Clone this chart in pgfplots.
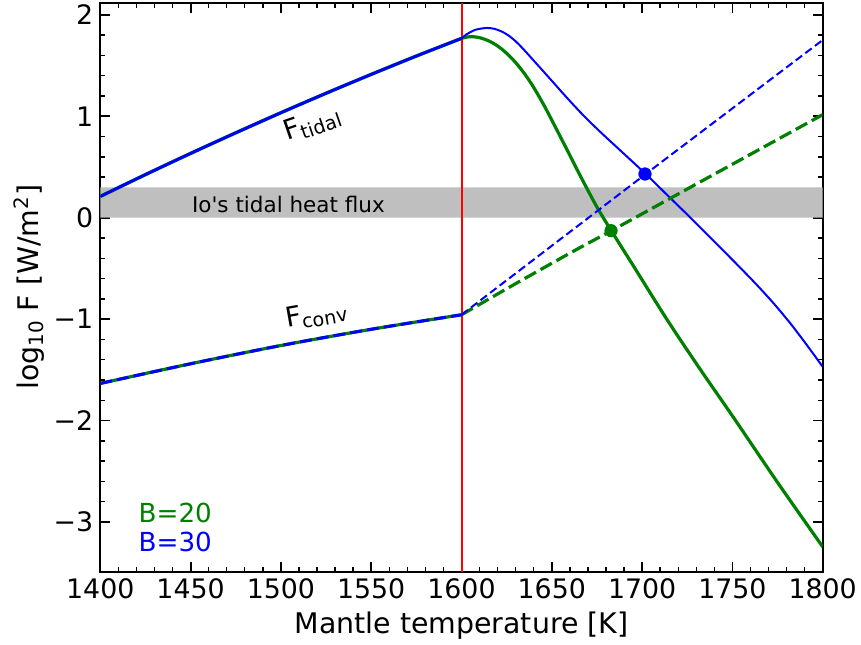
\documentclass[border=0pt]{standalone}
\usepackage{pgfplots}
\pgfplotsset{compat=1.18}
\usepackage{fontspec}
\setmainfont{DejaVu Sans}
\definecolor{mplgreen}{RGB}{0,128,0}
\definecolor{band}{RGB}{191,191,191}
\begin{document}
\begin{tikzpicture}
\begin{axis}[
  name=ax,
  scale only axis,
  width=361.2pt, height=284.5pt,
  xmin=1400, xmax=1800, ymin=-3.49, ymax=2.12,
  xtick={1400,1450,1500,1550,1600,1650,1700,1750,1800},
  xticklabels={1400,1450,1500,1550,1600,1650,1700,1750,1800},
  ytick={-3,-2,-1,0,1,2},
  yticklabels={−3,−2,−1,0,1,2},
  minor x tick num=4,
  minor y tick num=4,
  tick align=inside,
  xtick pos=both, ytick pos=both,
  major tick length=5pt, minor tick length=2.5pt,
  major tick style={line width=0.9pt, black},
  minor tick style={line width=0.7pt, black},
  axis line style={line width=1.1pt},
  ticklabel style={font=\fontsize{13.4}{16}\selectfont},
  xlabel={Mantle temperature [K]},
  ylabel={log\textsubscript{10} F [W/m\textsuperscript{2}]},
  label style={font=\fontsize{14.2}{17}\selectfont},
  xlabel style={at={(axis description cs:0.5,-0.1083)}, anchor=base},
  ylabel style={at={(axis description cs:-0.0983,0.5)}, anchor=center},
]
% Io's tidal heat flux band
\addplot[fill=band, draw=none] coordinates {(1400,0) (1800,0) (1800,0.3) (1400,0.3)} \closedcycle;
% red vertical line
\addplot[red, line width=1pt] coordinates {(1600,-3.49) (1600,2.12)};

% tidal below 1600 (both B)
\addplot[mplgreen, line width=1.7pt, smooth] coordinates {
(1400,0.21) (1425,0.425) (1450,0.634) (1475,0.837) (1500,1.035) (1525,1.227) (1550,1.413) (1575,1.594) (1600,1.768)};
% green tidal above 1600
\addplot[mplgreen, line width=1.6pt, smooth] coordinates {
(1600,1.768) (1603,1.781) (1606,1.785) (1610,1.775) (1615,1.744) (1620,1.693) (1625,1.621) (1630,1.529) (1635,1.417) (1640,1.284) (1646,1.098) (1652,0.893) (1658,0.685) (1666,0.405) (1675,0.105) (1683,-0.13) (1695,-0.47) (1714,-1.01) (1732,-1.49) (1751,-1.98) (1775,-2.61) (1800,-3.245)};
\addplot[blue, line width=1.4pt, smooth] coordinates {
(1400,0.21) (1425,0.425) (1450,0.634) (1475,0.837) (1500,1.035) (1525,1.227) (1550,1.413) (1575,1.594) (1600,1.768)};
% blue tidal above 1600
\addplot[blue, line width=1pt, smooth] coordinates {
(1600,1.768) (1603,1.81) (1607,1.848) (1610,1.862) (1614,1.871) (1618,1.863) (1622,1.838) (1626,1.797) (1630,1.739) (1634,1.667) (1641,1.529) (1649,1.37) (1658,1.19) (1667,1.018) (1676,0.86) (1686,0.695) (1702,0.431) (1714,0.222) (1726.5,0.005) (1745,-0.325) (1754,-0.487) (1763.5,-0.662) (1773,-0.848) (1782,-1.04) (1791,-1.25) (1800,-1.47)};

% conv below 1600
\addplot[mplgreen, line width=1.6pt, smooth] coordinates {
(1400,-1.634) (1450,-1.44) (1500,-1.26) (1550,-1.10) (1600,-0.957)};
\addplot[blue, line width=1.5pt, smooth, dash pattern=on 6pt off 2.5pt] coordinates {
(1400,-1.634) (1450,-1.44) (1500,-1.26) (1550,-1.10) (1600,-0.957)};
% conv above 1600
\addplot[mplgreen, line width=1.6pt, smooth, dash pattern=on 6.5pt off 2.6pt] coordinates {
(1600,-0.957) (1630,-0.65) (1662,-0.33) (1683,-0.128) (1720,0.234) (1760,0.625) (1800,1.016)};
\addplot[blue, line width=1pt, dash pattern=on 4pt off 2pt] coordinates {
(1600,-0.957) (1702,0.431) (1800,1.752)};

% intersection markers
\addplot[only marks, mark=*, mark size=3.1pt, blue] coordinates {(1701.6,0.431)};
\addplot[only marks, mark=*, mark size=3.1pt, mplgreen] coordinates {(1682.8,-0.128)};

% annotations
\node[anchor=base west, font=\fontsize{10.75}{13}\selectfont, inner sep=0pt] at (axis cs:1450.6,0.052) {Io\textquotesingle s tidal heat flux};
\node[anchor=base west, rotate=19, font=\fontsize{13.7}{16}\selectfont, inner sep=0pt] at (axis cs:1503.2,0.759) {F\textsubscript{tidal}};
\node[anchor=base west, rotate=10, font=\fontsize{13.7}{16}\selectfont, inner sep=0pt] at (axis cs:1503.2,-1.082) {F\textsubscript{conv}};
\node[anchor=base west, font=\fontsize{13.1}{16}\selectfont, inner sep=0pt, text=mplgreen] at (axis cs:1421.0,-3.005) {B=20};
\node[anchor=base west, font=\fontsize{13.1}{16}\selectfont, inner sep=0pt, text=blue] at (axis cs:1421.0,-3.291) {B=30};
\end{axis}
\pgfresetboundingbox
\path ([shift={(-50.15pt,-36.65pt)}]ax.south west) rectangle ([shift={(19.15pt,1.35pt)}]ax.north east);
\end{tikzpicture}
\end{document}
